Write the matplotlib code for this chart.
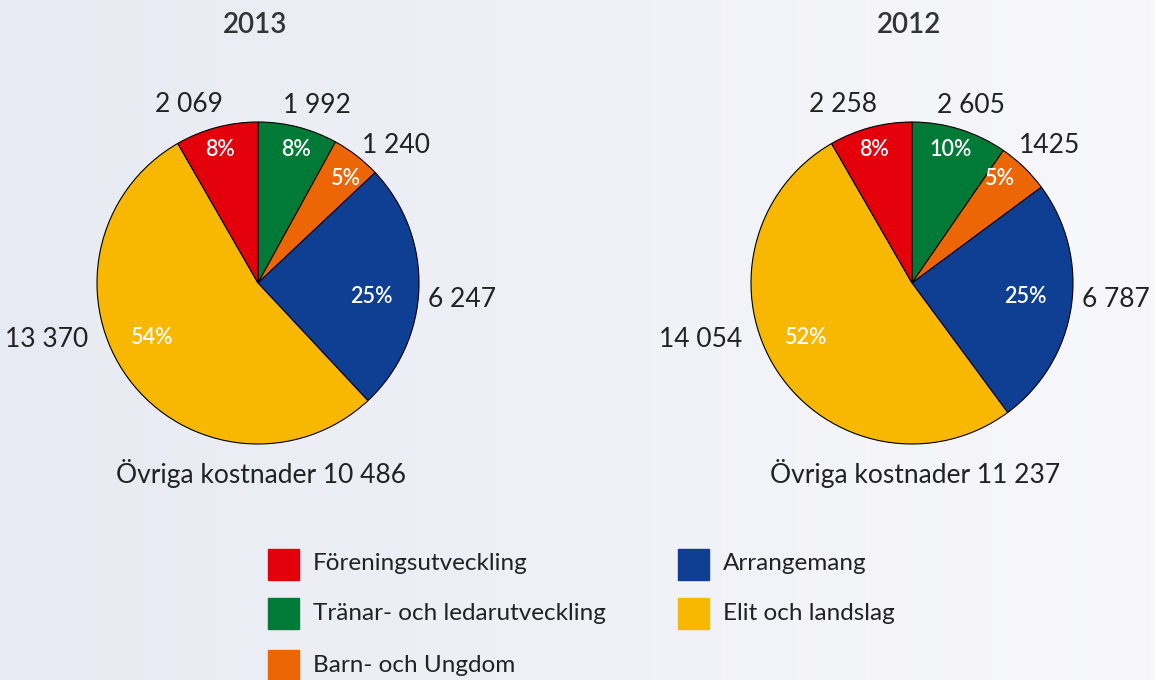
import numpy as np
import matplotlib
matplotlib.use("Agg")
import matplotlib.pyplot as plt
from matplotlib.patches import Rectangle

plt.rcParams['font.family'] = ['Lato', 'DejaVu Sans']

# data
categories = ["Föreningsutveckling", "Tränar- och ledarutveckling", "Barn- och Ungdom",
              "Arrangemang", "Elit och landslag"]
colors = ["#E3000B", "#007A36", "#EC6605", "#0F3F93", "#F8B700"]
years = ["2013", "2012"]
v2013 = [2069, 1992, 1240, 6247, 13370]
v2012 = [2258, 2605, 1425, 6787, 14054]
labels2013 = ["2 069", "1 992", "1 240", "6 247", "13 370"]
labels2012 = ["2 258", "2 605", "1425", "6 787", "14 054"]
other_costs = ["Övriga kostnader 10 486", "Övriga kostnader 11 237"]

# clockwise from 12 o'clock
pie_order = [1, 2, 3, 4, 0]

# layout (pixels, figure is 1155x680)
W, H = 1155, 680
centers = [(258, 283), (912, 283)]
R = 161
# label angle (deg) / radius (in units of R) per slice, in pie order
lab_ang = [71.5, 45, -4.5, 195, 111]
lab_rad = [1.16, 1.21, 1.27, 1.36, 1.19]
pct_ang = [74, 50, -7, 207, 106]
pct_rad = [0.86, 0.85, 0.71, 0.74, 0.86]
txt = '#222222'

fig = plt.figure(figsize=(W / 100, H / 100), dpi=100)
ax = fig.add_axes([0, 0, 1, 1])

# background gradient
grad = np.linspace(0, 1, 256)[None, :]
c0 = np.array([232, 234, 243]) / 255
c1 = np.array([248, 248, 251]) / 255
img = c0[None, None, :] * (1 - grad[..., None]) + c1[None, None, :] * grad[..., None]
ax.imshow(img, extent=[0, W, 0, H], aspect='auto', zorder=0)

for i, (vals, labs) in enumerate([(v2013, labels2013), (v2012, labels2012)]):
    cx, cy = centers[i]
    cy = H - cy
    v = [vals[k] for k in pie_order]
    c = [colors[k] for k in pie_order]
    ax.pie(v, colors=c, startangle=90, counterclock=False, center=(cx, cy), radius=R,
           wedgeprops=dict(edgecolor='black', linewidth=0.8), frame=True)
    total = sum(vals)
    for j, k in enumerate(pie_order):
        a = np.radians(lab_ang[j])
        ax.text(cx + R * lab_rad[j] * np.cos(a), cy + R * lab_rad[j] * np.sin(a), labs[k],
                ha='center', va='center', fontsize=19, color=txt)
        a = np.radians(pct_ang[j])
        pct = "%d%%" % round(100 * vals[k] / total)
        ax.text(cx + R * pct_rad[j] * np.cos(a), cy + R * pct_rad[j] * np.sin(a), pct,
                ha='center', va='center', fontsize=15.5, color='white', fontweight='semibold')
    ax.text(cx + 3, H - 474, other_costs[i], ha='center', va='center', fontsize=19,
            color=txt)
    ax.text(cx - 3, H - 25, years[i], ha='center', va='center', fontsize=20,
            color='#333333', fontweight='semibold')

# legend
leg_x = [268, 268, 268, 678, 678]
leg_y = [564, 613, 665, 564, 613]
for k in range(5):
    ax.add_patch(Rectangle((leg_x[k], H - leg_y[k] - 15.5), 31, 31, color=colors[k], zorder=3))
    ax.text(leg_x[k] + 45, H - leg_y[k], categories[k], ha='left', va='center',
            fontsize=17.5, color=txt)

ax.set_xlim(0, W)
ax.set_ylim(0, H)
ax.axis('off')
fig.savefig('out.png', dpi=100)
